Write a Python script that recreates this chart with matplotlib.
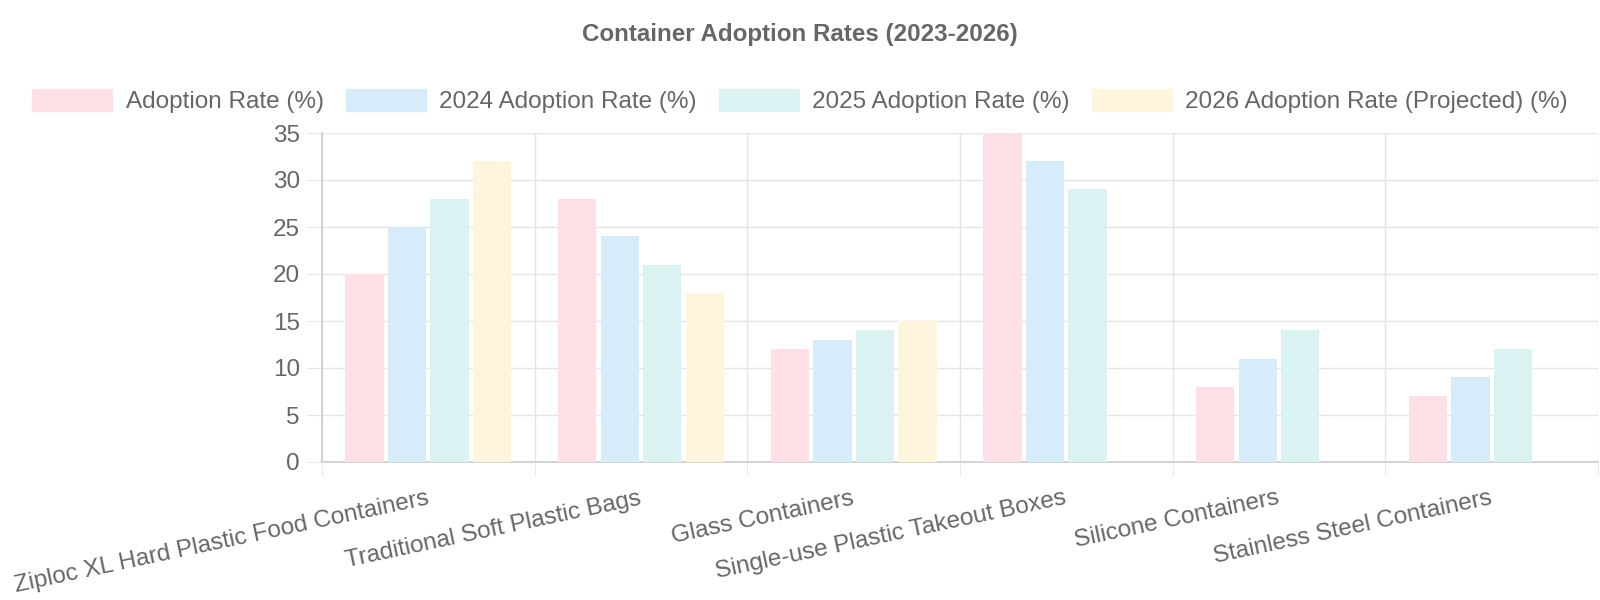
import matplotlib.pyplot as plt
from matplotlib.patches import Rectangle
import numpy as np

plt.rcParams['font.family'] = ['Liberation Sans', 'DejaVu Sans']

categories = ['Ziploc XL Hard Plastic Food Containers', 'Traditional Soft Plastic Bags',
              'Glass Containers', 'Single-use Plastic Takeout Boxes',
              'Silicone Containers', 'Stainless Steel Containers']
series_names = ['Adoption Rate (%)', '2024 Adoption Rate (%)', '2025 Adoption Rate (%)',
                '2026 Adoption Rate (Projected) (%)']
rate_2023 = [20, 28, 12, 35, 8, 7]
rate_2024 = [25, 24, 13, 32, 11, 9]
rate_2025 = [28, 21, 14, 29, 14, 12]
rate_2026 = [32, 18, 15, None, None, None]
colors = ['#ffe0e6', '#d7ecfb', '#dbf2f2', '#fff5dd']

text_color = '#666666'
grid_color = '#e5e5e5'

fig = plt.figure(figsize=(16, 6), dpi=100)
ax = fig.add_axes([322 / 1600, 1 - 462 / 600, 1276 / 1600, 329 / 600])

x = np.arange(len(categories))
slot = 0.8 / 4
for i, vals in enumerate([rate_2023, rate_2024, rate_2025, rate_2026]):
    xs = [xi for xi, v in zip(x, vals) if v is not None]
    vs = [v for v in vals if v is not None]
    ax.bar(np.array(xs) - 0.4 + slot * (i + 0.5), vs, width=slot * 0.9,
           color=colors[i], zorder=3)

ax.set_xlim(-0.5, len(categories) - 0.5)
ax.set_ylim(0, 35)
ax.set_yticks(range(0, 36, 5))
ax.set_xticks(x)
ax.set_xticklabels(categories, rotation=12, ha='right', va='center',
                   rotation_mode='anchor')
ax.set_xticks(np.arange(len(categories) + 1) - 0.5, minor=True)

ax.tick_params(axis='y', length=11, color=grid_color, labelsize=17.5,
               labelcolor=text_color, pad=5)
ax.tick_params(axis='x', which='major', length=0, labelsize=17.5,
               labelcolor=text_color, pad=26)
ax.tick_params(axis='x', which='minor', length=10, color=grid_color)

ax.grid(axis='y', color=grid_color, linewidth=1, zorder=0)
ax.grid(axis='x', which='minor', color=grid_color, linewidth=1, zorder=0)
for side in ['top', 'right']:
    ax.spines[side].set_visible(False)
for side in ['left', 'bottom']:
    ax.spines[side].set_color('#cccccc')
    ax.spines[side].set_linewidth(1.2)

handles = [Rectangle((0, 0), 1, 1, color=c) for c in colors]
fig.legend(handles, series_names, loc='center', bbox_to_anchor=(0.5, 1 - 101 / 600),
           ncol=4, frameon=False, fontsize=17.5, labelcolor=text_color,
           handlelength=3.3, handleheight=1.0, handletextpad=0.55, columnspacing=0.9)

fig.text(0.5, 1 - 34 / 600, 'Container Adoption Rates (2023-2026)', ha='center',
         va='center', fontsize=17.4, fontweight='bold', color=text_color)

fig.savefig('out.png', dpi=100)
